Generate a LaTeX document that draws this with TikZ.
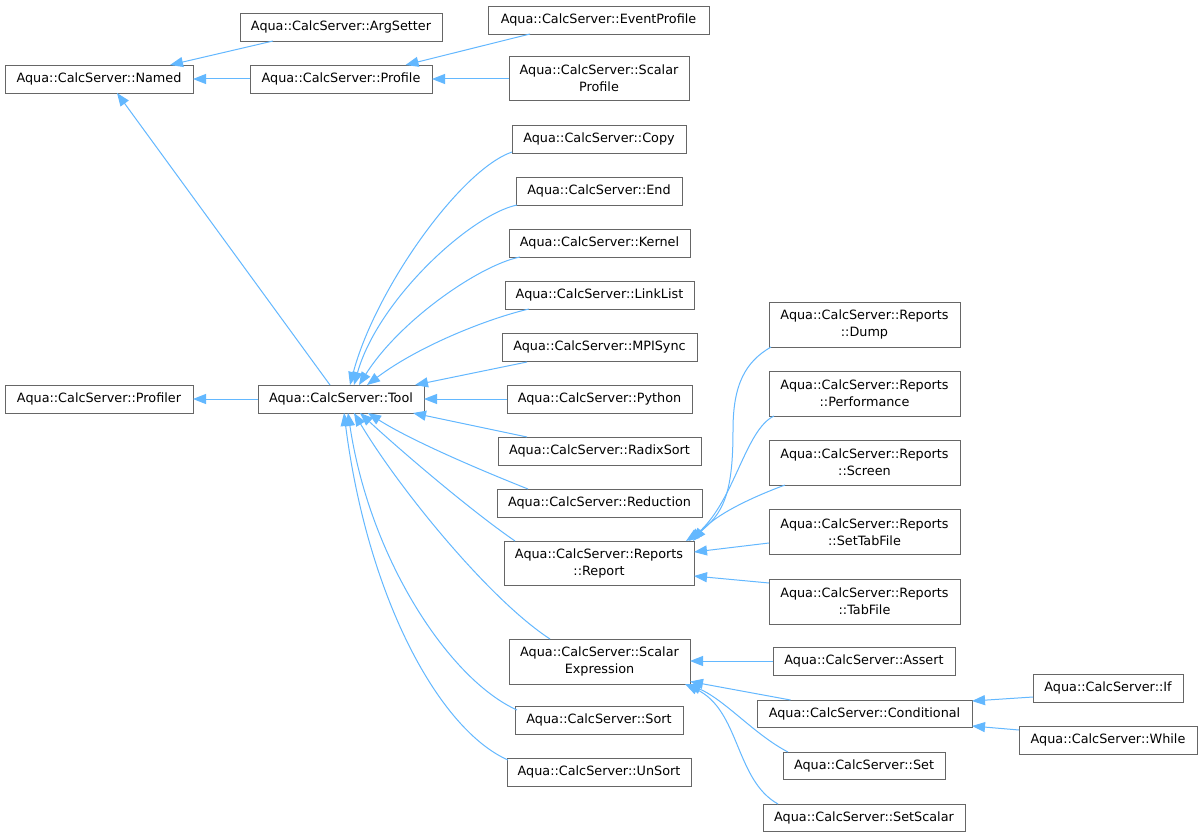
\documentclass[tikz,border=0pt]{standalone}
\usepackage{fontspec}
\setmainfont{DejaVu Sans}
\usetikzlibrary{arrows.meta,calc}
\definecolor{edgecol}{HTML}{63B8FF}
\definecolor{boxgray}{HTML}{666666}
\tikzset{
  box/.style={draw=boxgray, fill=white, line width=0.9pt, inner sep=0pt, outer sep=0pt,
    align=center, font=\fontsize{12.8}{17}\selectfont},
  sbox/.style={box, minimum height=28pt},
  dbox/.style={box, minimum height=45pt},
  inh/.style={draw=edgecol, line width=1pt, -{Triangle[length=13pt,width=10pt]}, fill=none},
}
\begin{document}
\begin{tikzpicture}[x=1pt,y=-1pt]
\useasboundingbox[fill=white] (0,0) rectangle (1202,837);
% nodes
\node[sbox, minimum width=188pt] (named) at (99,79) {Aqua::CalcServer::Named};
\node[sbox, minimum width=202pt] (argsetter) at (341,27) {Aqua::CalcServer::ArgSetter};
\node[sbox, minimum width=182pt] (profile) at (341,79) {Aqua::CalcServer::Profile};
\node[sbox, minimum width=221pt] (eventprofile) at (598.5,20) {Aqua::CalcServer::EventProfile};
\node[dbox, minimum width=180pt, minimum height=44pt] (scalarprofile) at (599,78) {Aqua::CalcServer::Scalar\\Profile};
\node[sbox, minimum width=174pt] (copy) at (599,139) {Aqua::CalcServer::Copy};
\node[sbox, minimum width=166pt] (end) at (599,191) {Aqua::CalcServer::End};
\node[sbox, minimum width=181pt] (kernel) at (599.5,243) {Aqua::CalcServer::Kernel};
\node[sbox, minimum width=189pt] (linklist) at (599.5,295) {Aqua::CalcServer::LinkList};
\node[sbox, minimum width=195pt] (mpisync) at (599.5,347) {Aqua::CalcServer::MPISync};
\node[sbox, minimum width=185pt] (python) at (599.5,399) {Aqua::CalcServer::Python};
\node[sbox, minimum width=188pt] (profiler) at (99,399) {Aqua::CalcServer::Profiler};
\node[sbox, minimum width=166pt] (tool) at (341,399) {Aqua::CalcServer::Tool};
\node[sbox, minimum width=203pt] (radixsort) at (599.5,451) {Aqua::CalcServer::RadixSort};
\node[sbox, minimum width=205pt] (reduction) at (599.5,503) {Aqua::CalcServer::Reduction};
\node[dbox, minimum width=190pt, minimum height=44pt] (report) at (599,563) {Aqua::CalcServer::Reports\\::Report};
\node[dbox, minimum width=181pt] (scalarexpr) at (599.5,661.5) {Aqua::CalcServer::Scalar\\Expression};
\node[sbox, minimum width=168pt] (sort) at (599,720) {Aqua::CalcServer::Sort};
\node[sbox, minimum width=184pt] (unsort) at (599,772) {Aqua::CalcServer::UnSort};
\node[dbox, minimum width=191pt] (dump) at (864.5,324.5) {Aqua::CalcServer::Reports\\::Dump};
\node[dbox, minimum width=191pt] (performance) at (864.5,393.5) {Aqua::CalcServer::Reports\\::Performance};
\node[dbox, minimum width=191pt] (screen) at (864.5,462.5) {Aqua::CalcServer::Reports\\::Screen};
\node[dbox, minimum width=191pt] (settabfile) at (864.5,532) {Aqua::CalcServer::Reports\\::SetTabFile};
\node[dbox, minimum width=191pt] (tabfile) at (864.5,601.5) {Aqua::CalcServer::Reports\\::TabFile};
\node[sbox, minimum width=182pt] (assert) at (864,661) {Aqua::CalcServer::Assert};
\node[sbox, minimum width=215pt, minimum height=27pt] (conditional) at (864.5,713.5) {Aqua::CalcServer::Conditional};
\node[sbox, minimum width=162pt, minimum height=27pt] (set) at (864,765.5) {Aqua::CalcServer::Set};
\node[sbox, minimum width=202pt, minimum height=27pt] (setscalar) at (864,817.5) {Aqua::CalcServer::SetScalar};
\node[sbox, minimum width=150pt] (if) at (1108,688) {Aqua::CalcServer::If};
\node[sbox, minimum width=178pt] (while) at (1108,740) {Aqua::CalcServer::While};
% edges: top
\draw[inh] ($(argsetter.south)+(-68,0)$) -- ($(named.north)+(71,0)$);
\draw[inh] (profile.west) -- (named.east);
\draw[inh] ($(eventprofile.south)+(-68.5,0)$) -- ($(profile.north)+(64.5,0)$);
\draw[inh] (scalarprofile.west |- profile.east) -- (profile.east);
\draw[inh] ($(tool.north)+(-11,0)$) -- ($(named.south)+(18,0)$);
\draw[inh] (tool.west) -- (profiler.east);
% edges into Tool (top)
\draw[inh] ($(copy.south west)+(0,-1)$) .. controls (460,170) and (375,290) .. ($(tool.north)+(9,0)$);
\draw[inh] ($(end.south west)+(1,0)$) .. controls (470,215) and (378,300) .. ($(tool.north)+(13,0)$);
\draw[inh] ($(kernel.south west)+(11,0)$) .. controls (480,265) and (400,320) .. ($(tool.north)+(18,0)$);
\draw[inh] ($(linklist.south west)+(24,0)$) .. controls (490,318) and (420,345) .. ($(tool.north)+(26,0)$);
\draw[inh] ($(mpisync.south west)+(25,1)$) -- ($(tool.north)+(74,0)$);
\draw[inh] (python.west) -- (tool.east);
% edges into Tool (bottom)
\draw[inh] ($(radixsort.north west)+(29,0)$) -- ($(tool.south)+(72,0)$);
\draw[inh] ($(reduction.north west)+(31,0)$) .. controls (480,470) and (410,440) .. ($(tool.south)+(27,0)$);
\draw[inh] ($(report.north west)+(11,0)$) .. controls (470,510) and (400,450) .. ($(tool.south)+(19,0)$);
\draw[inh] ($(scalarexpr.north)+(-49.5,0)$) .. controls (490,600) and (400,490) .. ($(tool.south)+(13,0)$);
\draw[inh] ($(sort.north west)+(2,4)$) .. controls (450,680) and (370,560) .. ($(tool.south)+(7,0)$);
\draw[inh] ($(unsort.north west)+(1,2)$) .. controls (440,730) and (368,600) .. ($(tool.south)+(3,0)$);
% edges into Report
\draw[inh] ($(dump.south west)+(2,0)$) .. controls (745,362) and (733,385) .. (733,430) .. controls (733,490) and (725,515) .. ($(report.north)+(87,0)$);
\draw[inh] ($(performance.south west)+(5,0)$) .. controls (745,430) and (735,500) .. ($(report.north)+(90,0)$);
\draw[inh] ($(screen.south west)+(16,0)$) .. controls (750,498) and (715,515) .. ($(report.north east)+(-1,0)$);
\draw[inh] ($(settabfile.west)+(0,11)$) -- ($(report.east)+(0,-11)$);
\draw[inh] ($(tabfile.west)+(0,-18.5)$) -- ($(report.east)+(0,13)$);
% edges into ScalarExpression
\draw[inh] (assert.west) -- (assert.west -| scalarexpr.east);
\draw[inh] ($(conditional.north)+(-74,0)$) -- ($(scalarexpr.east)+(0,20)$);
\draw[inh] ($(set.north)+(-76,0)$) .. controls (755,735) and (725,700) .. ($(scalarexpr.south east)+(-2,0)$);
\draw[inh] ($(setscalar.north)+(-86,0)$) .. controls (735,780) and (740,710) .. ($(scalarexpr.south east)+(-5,0)$);
% edges into Conditional
\draw[inh] ($(if.west)+(0,9)$) -- ($(conditional.east)+(0,-12.5)$);
\draw[inh] ($(while.west)+(0,-10)$) -- ($(conditional.east)+(0,12.5)$);
\end{tikzpicture}
\end{document}
